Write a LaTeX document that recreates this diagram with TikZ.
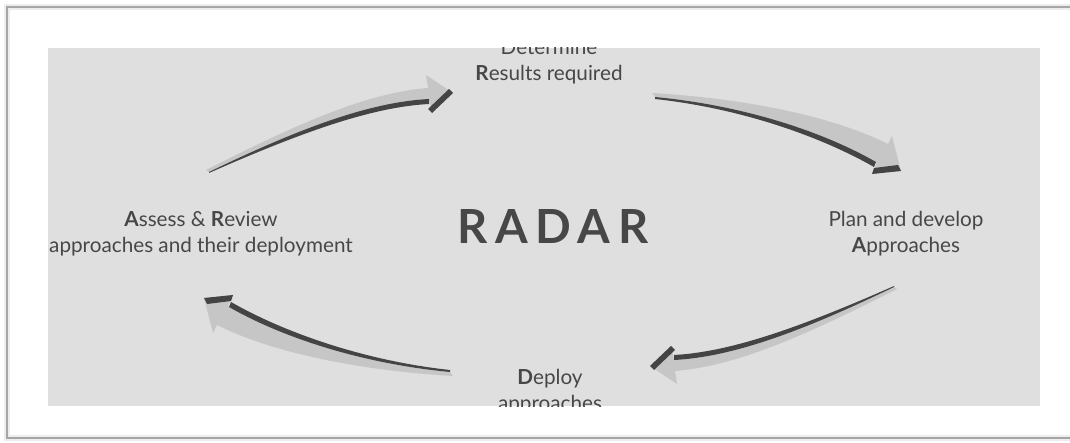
\documentclass[tikz,border=0pt]{standalone}
\usepackage{fontspec}
\setmainfont{Lato}
\definecolor{panel}{HTML}{DFDFDF}
\definecolor{ink}{HTML}{474747}
\definecolor{ribbon}{HTML}{C6C6C6}
\definecolor{edge}{HTML}{444444}
\tikzset{
  phase/.style={anchor=base, inner sep=0pt, text=ink, font=\fontsize{20.7}{24}\selectfont},
  title/.style={anchor=base, inner sep=0pt, text=ink, font=\fontsize{47}{50}\selectfont\bfseries\addfontfeature{LetterSpace=16}},
}

% swoosh going up to the right (light ribbon, dark inner edge, dark tip bar)
\newcommand{\risingarrow}{%
  \fill[ribbon] (206,170) .. controls (295,125) and (365,93) .. (428,88)
    -- (426,75) -- (453,93) -- (432,113) -- (429,99)
    .. controls (370,102) and (300,128) .. (209,172) -- cycle;
  \fill[edge] (209,172) .. controls (300,128) and (370,102) .. (429,99)
    -- (429,104) .. controls (372,107) and (302,132) .. (209,173) -- cycle;
  \fill[edge] (432,113) -- (453,93) -- (449,89) -- (428,109) -- cycle;
}
% swoosh going down to the right
\newcommand{\fallingarrow}{%
  \fill[ribbon] (652,93) .. controls (740,98) and (830,115) .. (888,144)
    -- (892,136) -- (901,171) -- (872,174) -- (877,163)
    .. controls (820,130) and (740,105) .. (655,97) -- cycle;
  \fill[edge] (655,97) .. controls (740,105) and (820,130) .. (876,162)
    -- (874,167) .. controls (818,135) and (738,108) .. (655,99) -- cycle;
  \fill[edge] (872,174) -- (901,171) -- (898,165) -- (874,168) -- cycle;
}

\begin{document}
\begin{tikzpicture}[x=1pt,y=-1pt]
  \useasboundingbox (0,0) rectangle (1070,443);
  % page frame with soft shadow
  \draw[black!7, line width=6pt] (1075,7) -- (7,7) -- (7,438) -- (1075,438);
  \draw[black!35, line width=1.2pt] (1075,7) -- (7,7) -- (7,438) -- (1075,438);

  % grey panel
  \fill[panel] (48,48) rectangle (1040,406);
  \begin{scope}
    \clip (48,48) rectangle (1040,406);

    % the four swooshes of the cycle
    \risingarrow
    \fallingarrow
    \begin{scope}[rotate around={180:(551.5,229.5)}]
      \risingarrow
    \end{scope}
    \begin{scope}[rotate around={180:(552.5,234.5)}]
      \fallingarrow
    \end{scope}

    % texts
    \node[phase] (det) at (549,55) {Determine};
    \node[phase] (res) at (549,81) {\textbf{R}esults required};
    \node[phase] (plan) at (906,227) {Plan and develop};
    \node[phase] (planappr) at (906,253) {\textbf{A}pproaches};
    \node[phase] (dep) at (550,384) {\textbf{D}eploy};
    \node[phase] (depappr) at (550,410) {approaches};
    \node[phase] (ass) at (201,227) {\textbf{A}ssess \& \textbf{R}eview};
    \node[phase] (assappr) at (201,253) {approaches and their deployment};
    \node[title] (radar) at (553,244) {RADAR};
  \end{scope}
\end{tikzpicture}
\end{document}
